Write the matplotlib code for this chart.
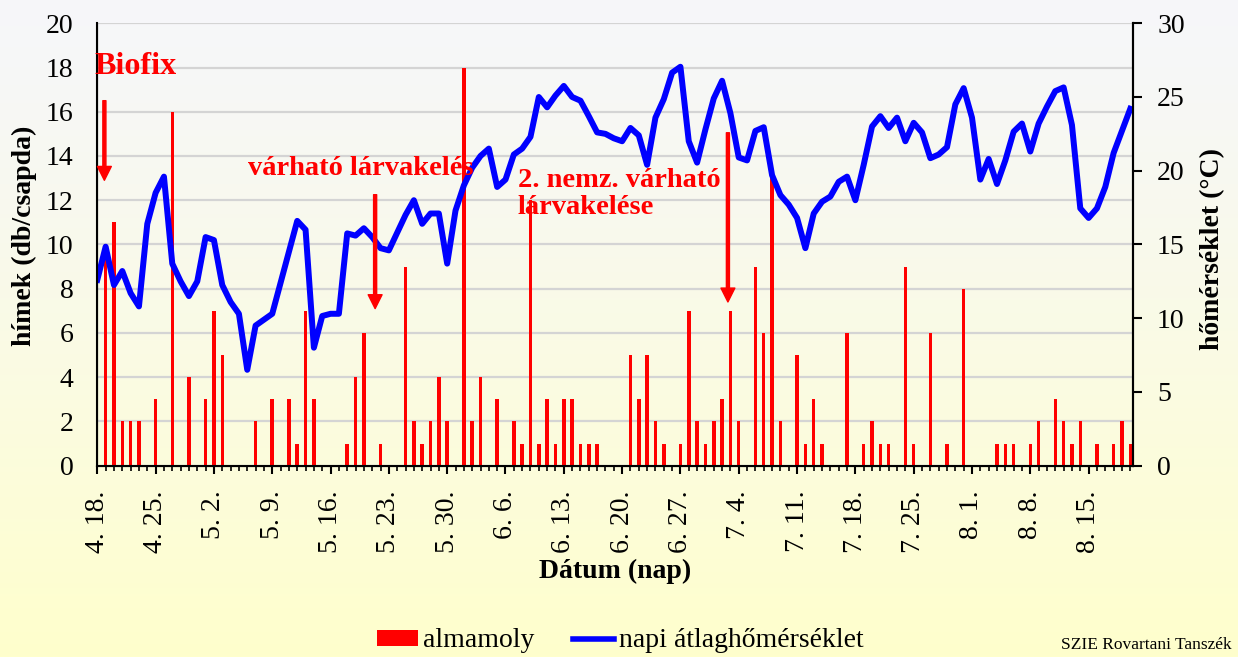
import numpy as np
import matplotlib
matplotlib.use("Agg")
import matplotlib.pyplot as plt
from matplotlib.patches import Patch
from matplotlib.lines import Line2D

plt.rcParams['font.family'] = ['Liberation Serif', 'DejaVu Serif']

# daily values, day 0 = 4. 18. ... day 124 = 8. 20.
moth_catch = [
    0, 10, 11, 2, 2, 2, 0, 3, 0, 16, 0, 4, 0, 3, 7, 5, 0, 0, 0, 2,
    0, 3, 0, 3, 1, 7, 3, 0, 0, 0, 1, 4, 6, 0, 1, 0, 0, 9, 2, 1,
    2, 4, 2, 0, 18, 2, 4, 0, 3, 0, 2, 1, 12, 1, 3, 1, 3, 3, 1, 1,
    1, 0, 0, 0, 5, 3, 5, 2, 1, 0, 1, 7, 2, 1, 2, 3, 7, 2, 0, 9,
    6, 13, 2, 0, 5, 1, 3, 1, 0, 0, 6, 0, 1, 2, 1, 1, 0, 9, 1, 0,
    6, 0, 1, 0, 8, 0, 0, 0, 1, 1, 1, 0, 1, 2, 0, 3, 2, 1, 2, 0,
    1, 0, 1, 2, 1,
]

mean_temp = [
    12.6, 14.85, 12.25, 13.2, 11.7, 10.8, 16.4, 18.5, 19.6, 13.7,
    12.5, 11.5, 12.5, 15.5, 15.3, 12.25, 11.1, 10.3, 6.5, 9.5,
    9.9, 10.3, 12.4, 14.5, 16.6, 16.0, 8.0, 10.15, 10.3, 10.3,
    15.75, 15.6, 16.1, 15.5, 14.75, 14.6, 15.8, 17.0, 18.0, 16.4,
    17.1, 17.1, 13.7, 17.3, 19.0, 20.2, 21.0, 21.5, 18.9, 19.4,
    21.1, 21.5, 22.3, 25.0, 24.3, 25.1, 25.75, 25.0, 24.75, 23.7,
    22.6, 22.5, 22.2, 22.0, 22.9, 22.4, 20.4, 23.6, 24.85, 26.65,
    27.05, 22.0, 20.55, 22.8, 24.9, 26.1, 23.9, 20.9, 20.7, 22.7,
    22.95, 19.7, 18.35, 17.7, 16.8, 14.75, 17.1, 17.9, 18.25, 19.25,
    19.6, 18.0, 20.4, 23.0, 23.7, 22.9, 23.6, 22.0, 23.25, 22.6,
    20.85, 21.1, 21.6, 24.5, 25.6, 23.6, 19.4, 20.8, 19.1, 20.7,
    22.65, 23.2, 21.3, 23.2, 24.35, 25.4, 25.65, 23.1, 17.45, 16.8,
    17.45, 18.9, 21.2, 22.7, 24.2,
]

tick_labels = ["4. 18.", "4. 25.", "5. 2.", "5. 9.", "5. 16.", "5. 23.",
               "5. 30.", "6. 6.", "6. 13.", "6. 20.", "6. 27.", "7. 4.",
               "7. 11.", "7. 18.", "7. 25.", "8. 1.", "8. 8.", "8. 15."]

days = np.arange(len(mean_temp))

fig = plt.figure(figsize=(12.38, 6.57), dpi=100)

# background gradient (grey-white at top, pale yellow at bottom)
bg = fig.add_axes([0, 0, 1, 1], zorder=-10)
top_c = np.array([0.965, 0.968, 0.98])
bot_c = np.array([1.0, 1.0, 0.80])
t = np.linspace(0, 1, 256)[:, None] ** 1.2
grad = top_c + (bot_c - top_c) * t
bg.imshow(grad[:, None, :], aspect='auto', extent=[0, 1, 0, 1])
bg.axis('off')

ax = fig.add_axes([0.0786, 0.2912, 0.8364, 0.6734])
ax.patch.set_alpha(0)

# bars: male moths per trap
ax.bar(days, moth_catch, width=0.42, color='#ff0000', zorder=2)
ax.set_ylim(0, 20)
ax.set_yticks(range(0, 21, 2))
ax.set_xlim(0, 124.3)
ax.grid(axis='y', color='#d4d4d4', lw=1.6)
ax.set_axisbelow(True)

ax.set_xticks(range(0, 125, 7))
ax.set_xticklabels(tick_labels, rotation=90)
ax.set_xticks(days, minor=True)
ax.tick_params(axis='x', which='major', length=6, width=1.5, pad=12, labelsize=20)
ax.tick_params(axis='x', which='minor', length=3.6, width=1.2)
ax.tick_params(axis='y', length=0, pad=17, labelsize=20)

for s in ['top']:
    ax.spines[s].set_visible(False)
for s in ['left', 'bottom', 'right']:
    ax.spines[s].set_linewidth(1.5)

ax.set_xlabel('Dátum (nap)', fontsize=20, fontweight='bold')
ax.xaxis.set_label_coords(0.5, -0.211)
ax.set_ylabel('hímek (db/csapda)', fontsize=20, fontweight='bold')
ax.yaxis.set_label_coords(-0.0582, 0.52)

# line: daily mean temperature
ax2 = ax.twinx()
ax2.plot(days, mean_temp, color='#0000ff', lw=4.3, solid_joinstyle='round')
ax2.set_ylim(0, 30)
ax2.set_yticks(range(0, 31, 5))
ax2.tick_params(axis='y', length=6.5, width=1.5, pad=11, labelsize=20)
ax2.spines['top'].set_visible(False)
ax2.spines['right'].set_linewidth(1.5)
ax2.set_ylabel('hőmérséklet (°C)', fontsize=20, fontweight='bold')
ax2.yaxis.set_label_coords(1.065, 0.49)

# annotations
arrow = dict(color='#ff0000', width=2.2, headwidth=10, headlength=10, shrink=0)
ax2.annotate('', xy=(0.85, 12.9), xycoords=ax.transData,
             xytext=(0.85, 16.5), textcoords=ax.transData, arrowprops=arrow)
ax2.annotate('', xy=(33.35, 7.1), xycoords=ax.transData,
             xytext=(33.35, 12.25), textcoords=ax.transData, arrowprops=arrow)
ax2.annotate('', xy=(75.7, 7.4), xycoords=ax.transData,
             xytext=(75.7, 15.05), textcoords=ax.transData, arrowprops=arrow)

txt = dict(color='#ff0000', fontweight='bold', ha='left', va='center',
           transform=ax.transData, zorder=5)
ax2.text(-0.3, 18.05, 'Biofix', fontsize=23, **txt)
ax2.text(18.1, 13.45, 'várható lárvakelés', fontsize=20.5, **txt)
ax2.text(50.5, 12.3, '2. nemz. várható\nlárvakelése', fontsize=20.5,
         linespacing=1.1, **txt)

handles = [Patch(facecolor='#ff0000'), Line2D([], [], color='#0000ff', lw=4)]
fig.legend(handles, ['almamoly', 'napi átlaghőmérséklet'], loc='center',
           bbox_to_anchor=(0.5008, 0.0244), ncol=2, frameon=False, fontsize=20,
           handlelength=1.5, handleheight=0.5, handletextpad=0.15,
           columnspacing=1.4)

fig.text(1232 / 1238, 1 - 645 / 657, 'SZIE Rovartani Tanszék',
         ha='right', va='center', fontsize=12.5)

fig.savefig('out.png', dpi=100)
